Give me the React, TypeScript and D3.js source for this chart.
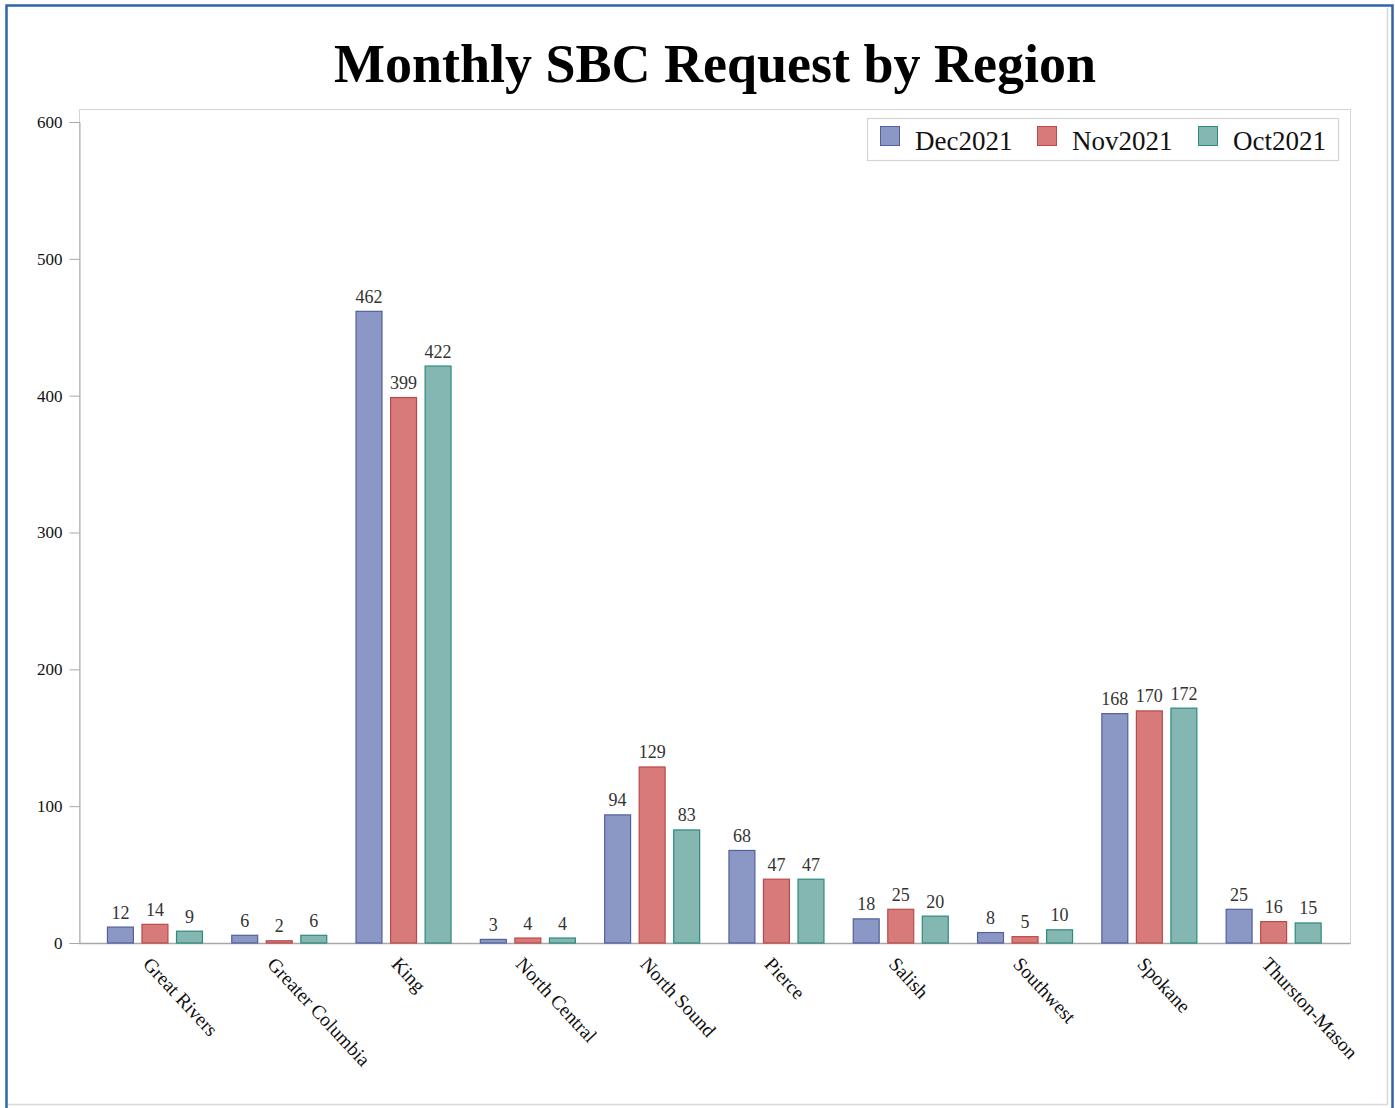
import React, {useEffect, useRef} from 'react';
import * as d3 from 'd3';

const regions = ['Great Rivers', 'Greater Columbia', 'King', 'North Central', 'North Sound', 'Pierce', 'Salish', 'Southwest', 'Spokane', 'Thurston-Mason'];
const months = ['Dec2021', 'Nov2021', 'Oct2021'];
const dec2021 = [12, 6, 462, 3, 94, 68, 18, 8, 168, 25];
const nov2021 = [14, 2, 399, 4, 129, 47, 25, 5, 170, 16];
const oct2021 = [9, 6, 422, 4, 83, 47, 20, 10, 172, 15];
const yTicks = [0, 100, 200, 300, 400, 500, 600];

const fills = ['#8b97c4', '#d97a7a', '#84b7b1'];
const strokes = ['#52609e', '#b94a4a', '#2e8a7d'];

const W = 1395;
const H = 1108;
const FONT = '"Liberation Serif", "Times New Roman", serif';

export default function App() {
    const ref = useRef<SVGSVGElement>(null);

    useEffect(() => {
        const svg = d3.select(ref.current);
        svg.selectAll('*').remove();

        const series = [dec2021, nov2021, oct2021];
        const left = 79, right = 1350, top = 109, bottom = 943;

        // outer frame
        svg.append('rect')
            .attr('x', 6.5).attr('y', 5.5)
            .attr('width', 1386).attr('height', 1120)
            .attr('fill', 'none').attr('stroke', '#2f66a8').attr('stroke-width', 2.5);
        svg.append('line')
            .attr('x1', 8).attr('x2', 1387.5).attr('y1', 1104.5).attr('y2', 1104.5)
            .attr('stroke', '#d8d8d8').attr('stroke-width', 1.5);
        svg.append('line')
            .attr('x1', 1387.5).attr('x2', 1387.5).attr('y1', 8).attr('y2', 1104.5)
            .attr('stroke', '#d8d8d8').attr('stroke-width', 1.5);

        // title
        svg.append('text')
            .attr('x', 715).attr('y', 82)
            .attr('text-anchor', 'middle')
            .attr('font-family', FONT).attr('font-weight', 'bold').attr('font-size', 54)
            .text('Monthly SBC Request by Region');

        const y = d3.scaleLinear().domain([0, 600]).range([bottom, 122]);
        const x0 = d3.scaleBand().domain(regions).range([92.8, 1335.8]).paddingInner(0).paddingOuter(0);
        const x1 = d3.scaleBand().domain(months).range([-48, 48]).paddingInner(0.22);

        // plot frame
        svg.append('rect')
            .attr('x', left + 0.5).attr('y', top + 0.5)
            .attr('width', right - left).attr('height', bottom - top)
            .attr('fill', 'none').attr('stroke', '#d4d4d4');

        // y axis
        const yAxis = svg.append('g').attr('transform', `translate(${left + 0.5},0)`)
            .call(d3.axisLeft(y).tickValues(yTicks).tickSize(10).tickPadding(7))
            .attr('font-family', FONT).attr('font-size', 17);
        yAxis.select('.domain').attr('stroke', '#a8a8a8');
        yAxis.selectAll('.tick line').attr('stroke', '#a8a8a8');
        yAxis.selectAll('.tick text').attr('fill', '#111');

        // x axis line
        svg.append('line')
            .attr('x1', left).attr('x2', right + 0.5)
            .attr('y1', bottom + 0.5).attr('y2', bottom + 0.5)
            .attr('stroke', '#a8a8a8').attr('stroke-width', 1.5);

        // bars
        const groups = svg.append('g').selectAll('g')
            .data(regions)
            .enter()
            .append('g')
            .attr('transform', (d) => `translate(${x0(d)! + x0.bandwidth() / 2},0)`);

        months.forEach((m, mi) => {
            groups.append('rect')
                .attr('x', x1(m)! + 0.5)
                .attr('y', (d, i) => y(series[mi][i]) + 0.5)
                .attr('width', x1.bandwidth() - 1)
                .attr('height', (d, i) => Math.max(0, bottom - y(series[mi][i]) - 0.5))
                .attr('fill', fills[mi])
                .attr('stroke', strokes[mi])
                .attr('stroke-width', 1.2);
            groups.append('text')
                .attr('x', x1(m)! + x1.bandwidth() / 2)
                .attr('y', (d, i) => y(series[mi][i]) - 8)
                .attr('text-anchor', 'middle')
                .attr('font-family', FONT).attr('font-size', 18).attr('fill', '#333')
                .text((d, i) => series[mi][i]);
        });

        // x labels, rotated
        groups.append('text')
            .attr('transform', `translate(-13,965) rotate(47)`)
            .attr('font-family', FONT).attr('font-size', 19.5).attr('fill', '#111')
            .text((d) => d);

        // legend
        const legend = svg.append('g');
        legend.append('rect')
            .attr('x', 867.5).attr('y', 118.5).attr('width', 471).attr('height', 42)
            .attr('fill', '#fff').attr('stroke', '#d4d4d4').attr('stroke-width', 1.2);
        const legendX = [880, 1037, 1198];
        months.forEach((m, mi) => {
            legend.append('rect')
                .attr('x', legendX[mi] + 0.5).attr('y', 126.5).attr('width', 19).attr('height', 19)
                .attr('fill', fills[mi]).attr('stroke', strokes[mi]);
            legend.append('text')
                .attr('x', legendX[mi] + 35).attr('y', 150)
                .attr('font-family', FONT).attr('font-size', 27).attr('fill', '#111')
                .text(m);
        });
    }, []);

    return (
        <svg ref={ref} width={W} height={H}
             style={{position: 'absolute', left: 0, top: 0, background: '#fff'}}/>
    );
}
